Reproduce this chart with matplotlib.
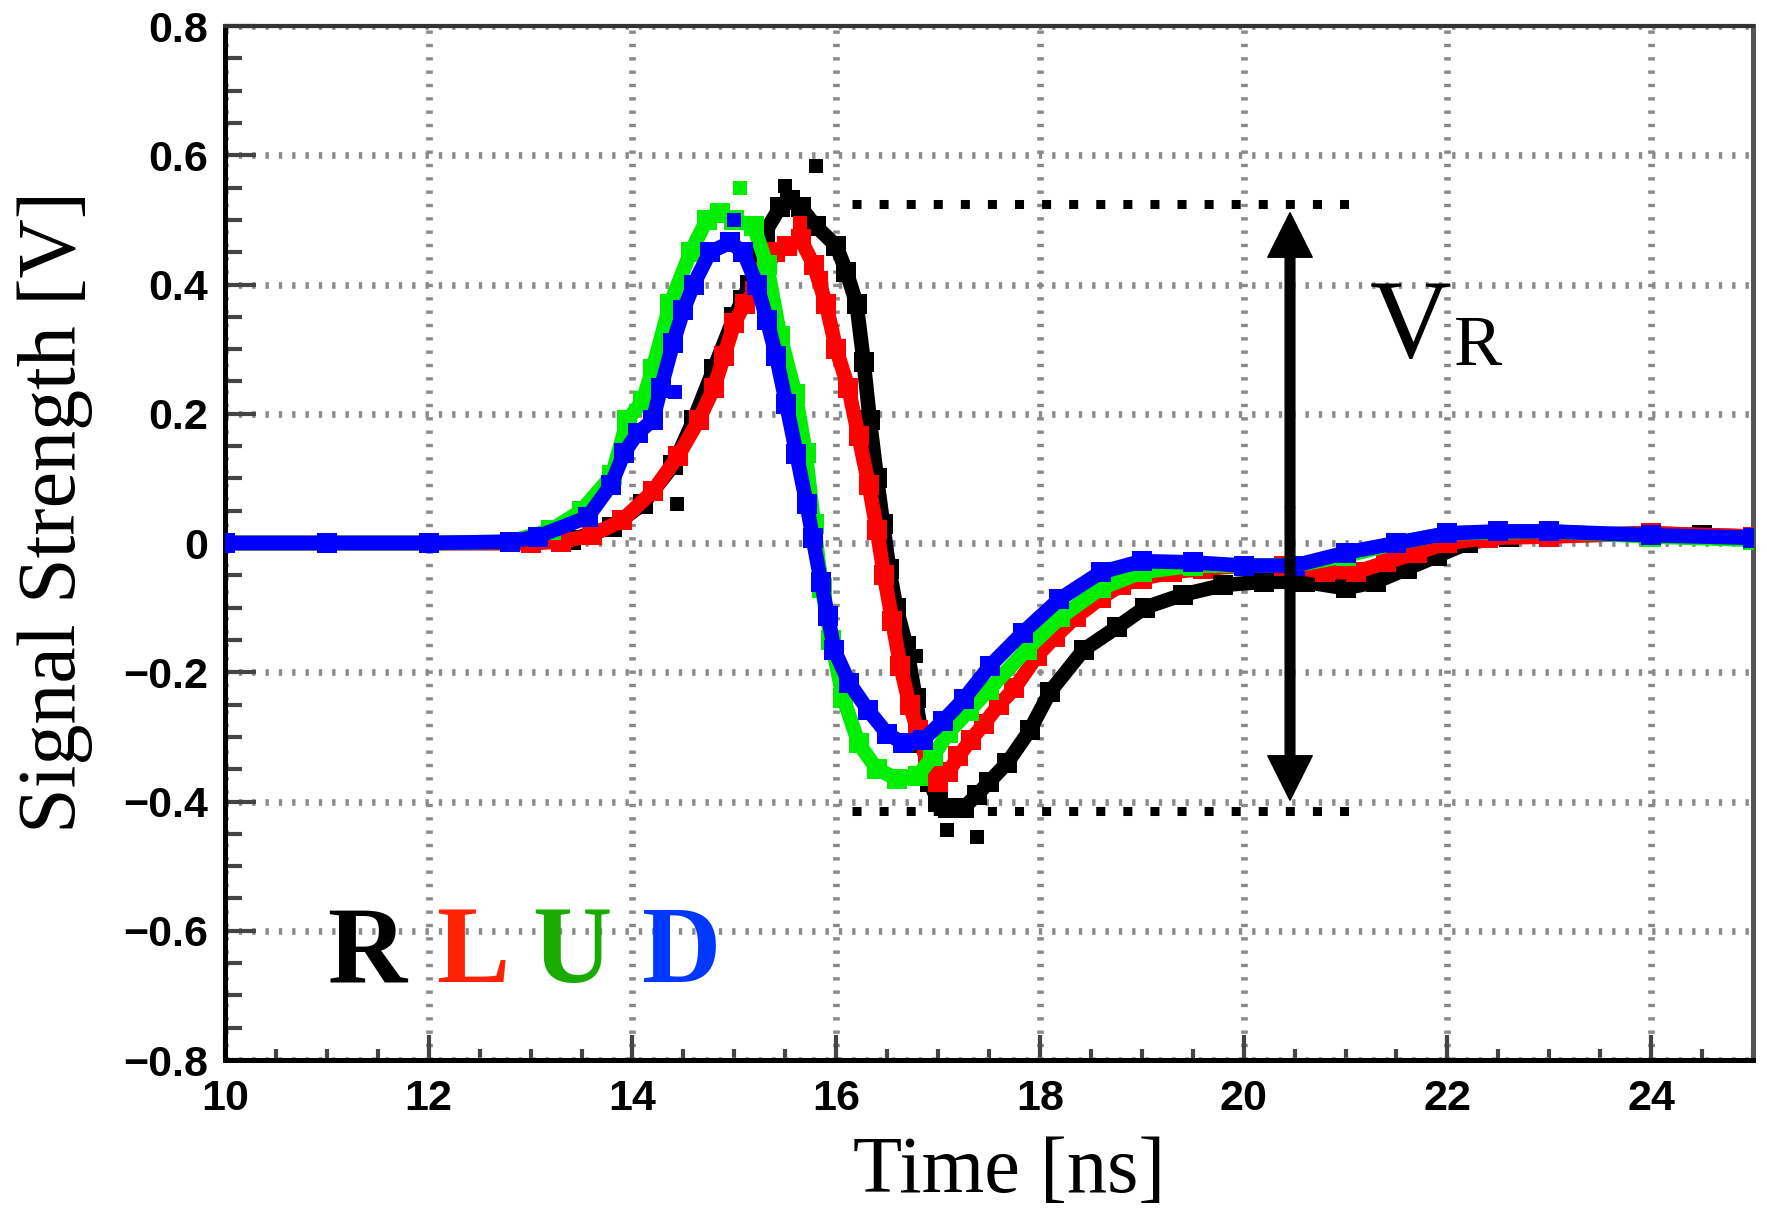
import matplotlib
matplotlib.use("Agg")
import matplotlib.pyplot as plt
from matplotlib.ticker import MultipleLocator

# R (black)
r_x = [10, 11, 12, 13, 13.4, 13.8, 14.1, 14.4, 14.6, 14.8, 15.0, 15.15, 15.3, 15.45,
       15.55, 15.65, 15.8, 16.0, 16.1, 16.2, 16.27, 16.33, 16.4, 16.46, 16.52, 16.59,
       16.69, 16.78, 16.85, 16.92, 17.0, 17.1, 17.25, 17.38, 17.5, 17.68, 17.9, 18.1,
       18.43, 18.76, 19.03, 19.4, 19.8, 20.2, 20.6, 21.0, 21.3, 21.6, 21.9, 22.2, 22.6,
       23.0, 24.0, 24.5, 25.0]
r_y = [0, 0, 0, 0, 0.005, 0.025, 0.06, 0.12, 0.19, 0.27, 0.35, 0.40, 0.48, 0.52,
       0.53, 0.52, 0.49, 0.46, 0.42, 0.37, 0.28, 0.19, 0.10, 0.03, -0.04, -0.10,
       -0.16, -0.24, -0.31, -0.37, -0.40, -0.41, -0.41, -0.39, -0.37, -0.34, -0.29, -0.23,
       -0.165, -0.13, -0.10, -0.08, -0.065, -0.06, -0.06, -0.07, -0.06, -0.04, -0.02, 0.0, 0.01,
       0.012, 0.015, 0.012, 0.01]
r_out_x = [15.8, 16.78, 17.09, 17.38, 14.44, 15.06, 15.5]
r_out_y = [0.583, -0.175, -0.444, -0.455, 0.06, 0.38, 0.553]

# L (red)
l_x = [10, 11, 12, 13, 13.3, 13.6, 13.9, 14.2, 14.45, 14.65, 14.8, 14.9, 15.0, 15.1,
       15.2, 15.3, 15.4, 15.52, 15.65, 15.78, 15.9, 16.0, 16.12, 16.22, 16.32, 16.4,
       16.47, 16.55, 16.63, 16.72, 16.8, 16.9, 17.0, 17.1, 17.2, 17.32, 17.45, 17.6,
       17.75, 17.97, 18.15, 18.35, 18.6, 18.8, 19.0, 19.3, 19.6, 20.0, 20.4, 20.8, 21.1,
       21.4, 21.7, 22.0, 22.4, 23.0, 24.0, 25.0]
l_y = [0, 0, 0, 0, 0.002, 0.012, 0.035, 0.08, 0.135, 0.19, 0.24, 0.29, 0.34, 0.37,
       0.39, 0.42, 0.45, 0.46, 0.47, 0.43, 0.37, 0.30, 0.24, 0.165, 0.09, 0.02,
       -0.05, -0.12, -0.19, -0.25, -0.29, -0.34, -0.37, -0.355, -0.33, -0.305, -0.28, -0.25,
       -0.225, -0.175, -0.145, -0.115, -0.085, -0.065, -0.055, -0.045, -0.04, -0.035, -0.035, -0.045, -0.045,
       -0.03, -0.015, 0.0, 0.008, 0.01, 0.015, 0.01]
l_out_x = [15.64, 15.85]
l_out_y = [0.495, 0.41]

# U (green)
u_x = [10, 11, 12, 12.8, 13.2, 13.5, 13.8, 13.95, 14.1, 14.2, 14.37, 14.57, 14.73, 14.86,
       15.0, 15.19, 15.32, 15.45, 15.6, 15.7, 15.78, 15.86, 15.95, 16.07, 16.22, 16.4,
       16.6, 16.8, 16.95, 17.1, 17.3, 17.5, 17.87, 18.2, 18.6, 19.0, 19.5, 20.0, 20.5,
       21.0, 21.5, 22.0, 23.0, 24.0, 25.0]
u_y = [0, 0, 0, 0.002, 0.02, 0.05, 0.105, 0.19, 0.22, 0.27, 0.37, 0.45, 0.5, 0.51,
       0.5, 0.49, 0.43, 0.32, 0.23, 0.14, 0.03, -0.07, -0.15, -0.24, -0.31, -0.35,
       -0.365, -0.36, -0.33, -0.294, -0.26, -0.227, -0.165, -0.115, -0.07, -0.045, -0.035, -0.035, -0.035,
       -0.02, 0.0, 0.015, 0.018, 0.01, 0.005]
u_out_x = [15.06]
u_out_y = [0.55]

# D (blue)
d_x = [10, 11, 12, 12.8, 13.07, 13.56, 13.79, 13.92, 14.05, 14.2, 14.28, 14.4, 14.5, 14.6,
       14.76, 14.96, 15.09, 15.22, 15.32, 15.41, 15.51, 15.61, 15.71, 15.77, 15.85, 15.92,
       15.98, 16.13, 16.31, 16.5, 16.66, 16.85, 17.05, 17.25, 17.51, 17.83, 18.19, 18.6,
       19.0, 19.5, 20.0, 20.5, 21.0, 21.5, 22.0, 22.5, 23.0, 24.0, 25.0]
d_y = [0, 0, 0, 0.002, 0.01, 0.04, 0.09, 0.14, 0.17, 0.19, 0.24, 0.31, 0.36, 0.40,
       0.45, 0.465, 0.45, 0.40, 0.345, 0.29, 0.215, 0.138, 0.06, 0.008, -0.06, -0.113,
       -0.165, -0.217, -0.258, -0.295, -0.31, -0.305, -0.275, -0.242, -0.19, -0.139, -0.087, -0.045,
       -0.028, -0.03, -0.035, -0.035, -0.015, 0.0, 0.015, 0.018, 0.018, 0.012, 0.008]
d_out_x = [15.0, 14.42]
d_out_y = [0.5, 0.234]

series = [
    ("R", r_x, r_y, r_out_x, r_out_y, "black"),
    ("L", l_x, l_y, l_out_x, l_out_y, "#ff0000"),
    ("U", u_x, u_y, u_out_x, u_out_y, "#00ee00"),
    ("D", d_x, d_y, d_out_x, d_out_y, "#0000ff"),
]
label_colors = {"R": "black", "L": "#ff2200", "U": "#1aab00", "D": "#0038ff"}
label_x = {"R": 11.0, "L": 12.07, "U": 13.02, "D": 14.08}

vr_top = 0.525
vr_bottom = -0.415
vr_x = 20.455
dash_x = [16.16, 21.2]

xticks = [10, 12, 14, 16, 18, 20, 22, 24]
yticks = [-0.8, -0.6, -0.4, -0.2, 0, 0.2, 0.4, 0.6, 0.8]

fig = plt.figure(figsize=(17.67, 12.09), dpi=100)
ax = fig.add_axes([0.12733, 0.12324, 0.86474, 0.85525])

for i, (name, xs, ys, oxs, oys, color) in enumerate(series):
    ax.plot(xs, ys, color=color, lw=10.5, marker="s", ms=14, mew=0, zorder=3 + i)
    ax.plot(oxs, oys, ls="none", color=color, marker="s", ms=10, mew=0, zorder=3 + i)

# V_R markers
for yv in (vr_top, vr_bottom):
    ax.plot(dash_x, [yv, yv], color="black", lw=6.5, ls=(0, (1, 2)),
            dash_capstyle="butt", zorder=10)
mid = (vr_top + vr_bottom) / 2
for tip in (0.511, -0.398):
    ax.annotate("", xy=(vr_x, tip), xytext=(vr_x, mid),
                arrowprops=dict(width=7, headwidth=32, headlength=32,
                                facecolor="black", edgecolor="black", shrink=0),
                zorder=11)
ax.text(21.24, 0.288, "V", fontsize=81, family="Liberation Serif", zorder=11)
ax.text(22.06, 0.276, "R", fontsize=52, family="Liberation Serif", zorder=11)

for name, _, _, _, _, _ in series:
    ax.text(label_x[name], -0.68, name, fontsize=79, fontweight="bold",
            family="Liberation Serif", color=label_colors[name], zorder=11)

ax.set_xlim(10, 25)
ax.set_ylim(-0.8, 0.8)
ax.set_xticks(xticks)
ax.set_yticks(yticks)
ax.set_xticklabels([str(t) for t in xticks])
ax.set_yticklabels(["\u22120.8", "\u22120.6", "\u22120.4", "\u22120.2", "0", "0.2", "0.4", "0.6", "0.8"])
ax.xaxis.set_minor_locator(MultipleLocator(0.5))
ax.yaxis.set_minor_locator(MultipleLocator(0.05))
ax.tick_params(which="both", direction="in", top=False, right=False, color="#444444", width=3)
ax.tick_params(axis="y", which="major", length=22, pad=12)
ax.tick_params(axis="y", which="minor", length=12)
ax.tick_params(axis="x", which="major", length=18, pad=14)
ax.tick_params(axis="x", which="minor", length=8)
for lab in ax.get_xticklabels() + ax.get_yticklabels():
    lab.set_fontfamily("Liberation Sans")
    lab.set_fontweight("bold")
    lab.set_fontsize(31)

ax.grid(True, which="major", color="#8a8a8a", lw=4.8, ls=(0, (0.5, 1.5)), zorder=1)
ax.set_axisbelow(True)

ax.spines["left"].set_linewidth(3.6)
ax.spines["bottom"].set_linewidth(3.6)
ax.spines["top"].set_linewidth(3)
ax.spines["top"].set_color("#333333")
ax.spines["right"].set_linewidth(3.6)
ax.spines["right"].set_color("#555555")

ax.text(0.513, -0.128, "Time [ns]", transform=ax.transAxes, ha="center",
        va="baseline", fontsize=58, family="Liberation Serif")
ax.text(-0.111, 0.53, "Signal Strength [V]", transform=ax.transAxes, ha="center",
        va="center", rotation=90, fontsize=59, family="Liberation Serif")

fig.savefig("out.png", dpi=100)
